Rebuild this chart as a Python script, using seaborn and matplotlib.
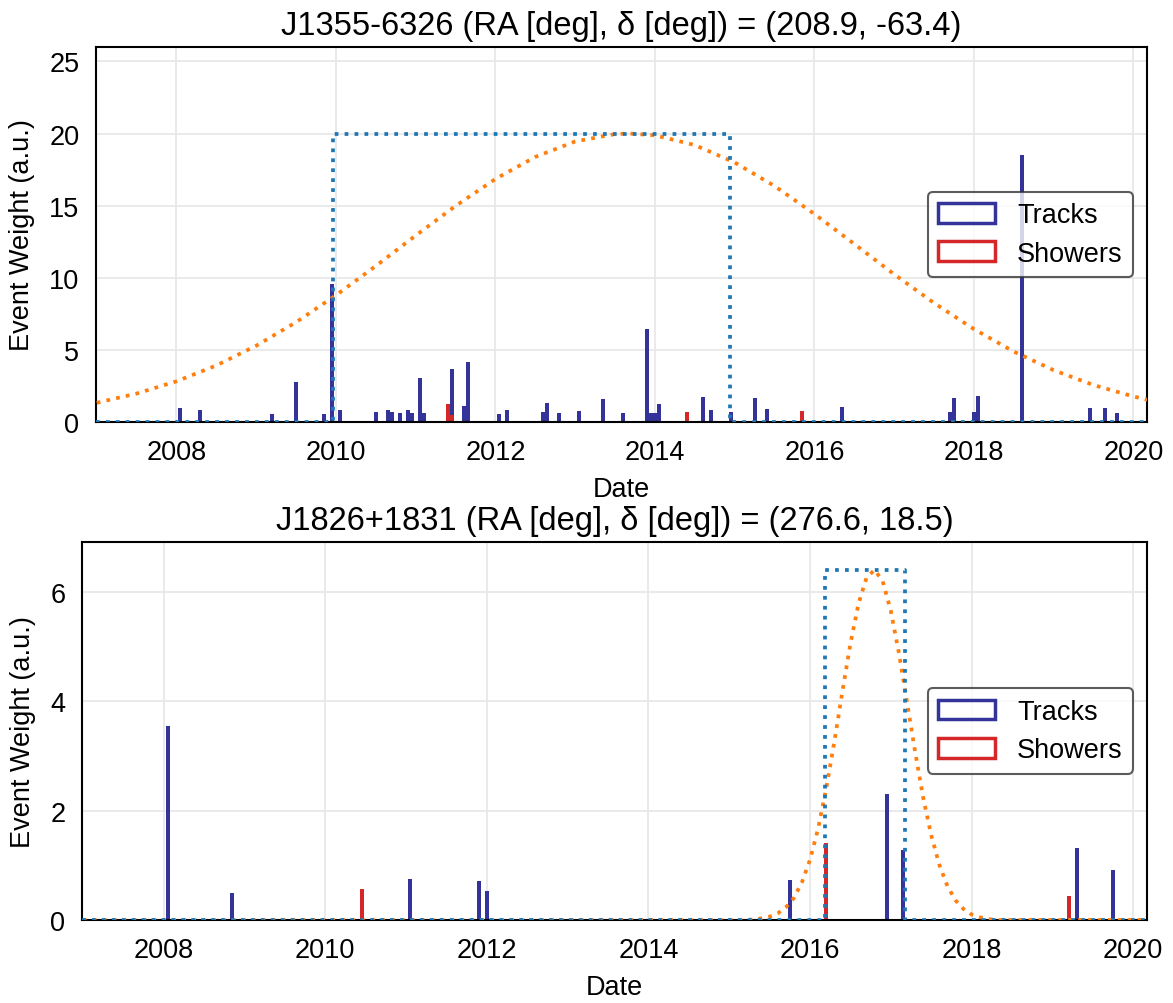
import matplotlib
matplotlib.use("Agg")
import matplotlib.pyplot as plt
import pandas as pd
import seaborn as sns
from matplotlib.patches import Patch


# ─── Data ──────────────────────────────────────────────────────────────────

TOP_TITLE = "J1355-6326 (RA [deg], δ [deg]) = (208.9, -63.4)"
BOTTOM_TITLE = "J1826+1831 (RA [deg], δ [deg]) = (276.6, 18.5)"

top_track_dates = [
    2008.07, 2008.32, 2009.19, 2009.49, 2009.84, 2009.95, 2010.03, 2010.50,
    2010.65, 2010.70, 2010.81, 2010.88, 2010.93, 2011.07, 2011.11, 2011.45,
    2011.59, 2011.66, 2012.05, 2012.16, 2012.60, 2012.65, 2012.82, 2013.04,
    2013.33, 2013.62, 2013.90, 2013.95, 2014.00, 2014.05, 2014.61, 2014.70,
    2014.93, 2015.25, 2015.39, 2016.35, 2017.70, 2017.75, 2018.00, 2018.05,
    2018.60, 2019.47, 2019.64, 2019.78,
]
top_track_weights = [
    0.96, 0.82, 0.54, 2.78, 0.54, 9.6, 0.82, 0.70,
    0.86, 0.68, 0.61, 0.82, 0.60, 3.08, 0.60, 3.65,
    1.14, 4.15, 0.56, 0.84, 0.68, 1.31, 0.60, 0.77,
    1.56, 0.63, 6.48, 0.60, 0.60, 1.28, 1.70, 0.82,
    0.72, 1.66, 0.89, 1.03, 0.68, 1.66, 0.68, 1.80,
    18.5, 0.98, 0.96, 0.61,
]
top_shower_dates = [2011.40, 2011.45, 2014.40, 2015.84]
top_shower_weights = [1.24, 0.45, 0.68, 0.75]

top_box_x = [2006.99, 2009.96, 2009.96, 2014.94, 2014.94, 2020.17]
top_box_y = [0, 0, 20, 20, 0, 0]

top_curve_x = [
    2007.0, 2007.5, 2008.0, 2008.5, 2009.0, 2009.5, 2010.0, 2010.5, 2011.0,
    2011.5, 2012.0, 2012.5, 2013.0, 2013.5, 2013.68, 2014.0, 2014.5, 2015.0,
    2015.5, 2016.0, 2016.5, 2017.0, 2017.5, 2018.0, 2018.5, 2019.0, 2019.5,
    2020.0, 2020.2,
]
top_curve_y = [
    1.33, 1.97, 2.82, 3.92, 5.29, 6.92, 8.79, 10.82, 12.93,
    14.98, 16.85, 18.38, 19.45, 19.96, 20.0, 19.88, 19.20, 17.99,
    16.36, 14.42, 12.34, 10.24, 8.25, 6.44, 4.88, 3.59, 2.56,
    1.77, 1.51,
]

bottom_track_dates = [
    2008.04, 2008.84, 2011.07, 2011.88, 2012.01, 2015.73, 2016.97, 2017.15,
    2019.32, 2019.77,
]
bottom_track_weights = [3.55, 0.49, 0.74, 0.71, 0.53, 0.73, 2.31, 1.27, 1.32, 0.92]
bottom_shower_dates = [2010.46, 2016.19, 2019.19]
bottom_shower_weights = [0.57, 1.40, 0.43]

bottom_box_x = [2006.99, 2016.19, 2016.19, 2017.17, 2017.17, 2020.17]
bottom_box_y = [0, 0, 6.4, 6.4, 0, 0]

bottom_curve_x = [
    2007.0, 2015.2, 2015.3, 2015.4, 2015.5, 2015.6, 2015.7, 2015.8, 2015.9,
    2016.0, 2016.1, 2016.2, 2016.3, 2016.4, 2016.5, 2016.6, 2016.7, 2016.8,
    2016.9, 2017.0, 2017.1, 2017.2, 2017.3, 2017.4, 2017.5, 2017.6, 2017.7,
    2017.8, 2017.9, 2018.0, 2018.1, 2018.2, 2018.3, 2020.2,
]
bottom_curve_y = [
    0.0, 0.0, 0.01, 0.03, 0.06, 0.12, 0.23, 0.40, 0.69,
    1.10, 1.67, 2.40, 3.25, 4.17, 5.05, 5.78, 6.26, 6.40,
    6.19, 5.65, 4.88, 3.99, 3.08, 2.24, 1.55, 1.01, 0.62,
    0.36, 0.20, 0.10, 0.05, 0.02, 0.0, 0.0,
]

year_ticks = [2008, 2010, 2012, 2014, 2016, 2018, 2020]

TRACK_COLOR = "#333399"
SHOWER_COLOR = "#d62728"
BOX_COLOR = "#1f77b4"
CURVE_COLOR = "#ff7f0e"
BIN_WIDTH = 0.05
BIN_RANGE = (2006.975, 2020.175)


# ─── Plot ──────────────────────────────────────────────────────────────────

sns.set_theme(style="whitegrid")
plt.rcParams["font.family"] = ["Liberation Sans", "DejaVu Sans"]
plt.rcParams.update({
    "axes.edgecolor": "black",
    "axes.linewidth": 1.5,
    "grid.color": "#e8e8e8",
    "grid.linewidth": 1.3,
    "text.color": "black",
    "axes.labelcolor": "black",
    "xtick.color": "black",
    "ytick.color": "black",
})


def draw_events(ax, dates, weights, color, zorder):
    events = pd.DataFrame({"date": dates, "weight": weights})
    sns.histplot(data=events, x="date", weights="weight", binwidth=BIN_WIDTH,
                 binrange=BIN_RANGE, ax=ax, color=color, alpha=1,
                 linewidth=0, zorder=zorder)


def draw_panel(ax, title, tracks, showers, box, curve, ylim, yticks):
    draw_events(ax, tracks[0], tracks[1], TRACK_COLOR, 1)
    draw_events(ax, showers[0], showers[1], SHOWER_COLOR, 1.1)
    sns.lineplot(x=curve[0], y=curve[1], ax=ax, color=CURVE_COLOR,
                 linestyle=":", linewidth=2.7, sort=False, estimator=None, zorder=3)
    sns.lineplot(x=box[0], y=box[1], ax=ax, color=BOX_COLOR,
                 linestyle=":", linewidth=2.7, sort=False, estimator=None, zorder=3)

    ax.set_xlim(2006.99, 2020.17)
    ax.set_ylim(*ylim)
    ax.set_xticks(year_ticks)
    ax.set_xticklabels([str(y) for y in year_ticks])
    ax.set_yticks(yticks)
    ax.tick_params(labelsize=19.5, length=0, pad=12)
    ax.set_title(title, fontsize=23.5, pad=9)
    ax.set_xlabel("Date", fontsize=19.5, labelpad=8.5)
    ax.set_ylabel("Event Weight (a.u.)", fontsize=19.5, labelpad=10)
    for spine in ax.spines.values():
        spine.set_visible(True)
        spine.set_color("black")
        spine.set_linewidth(1.5)

    handles = [
        Patch(facecolor="none", edgecolor=TRACK_COLOR, linewidth=2.5, label="Tracks"),
        Patch(facecolor="none", edgecolor=SHOWER_COLOR, linewidth=2.5, label="Showers"),
    ]
    leg = ax.legend(handles=handles, loc="center right", fontsize=19.5,
                    frameon=True, framealpha=0.8, edgecolor="#333333",
                    handlelength=2.1, handleheight=0.75, labelspacing=0.45)
    leg.get_frame().set_linewidth(1.5)


fig = plt.figure(figsize=(11.73, 10.04), dpi=100)
ax_top = fig.add_axes([0.0818, 0.5787, 0.8960, 0.3735])
ax_bot = fig.add_axes([0.0699, 0.0827, 0.9079, 0.3765])

draw_panel(ax_top, TOP_TITLE,
           (top_track_dates, top_track_weights),
           (top_shower_dates, top_shower_weights),
           (top_box_x, top_box_y), (top_curve_x, top_curve_y),
           (0, 26), [0, 5, 10, 15, 20, 25])
draw_panel(ax_bot, BOTTOM_TITLE,
           (bottom_track_dates, bottom_track_weights),
           (bottom_shower_dates, bottom_shower_weights),
           (bottom_box_x, bottom_box_y), (bottom_curve_x, bottom_curve_y),
           (0, 6.91), [0, 2, 4, 6])

fig.savefig("out.png", dpi=100)
